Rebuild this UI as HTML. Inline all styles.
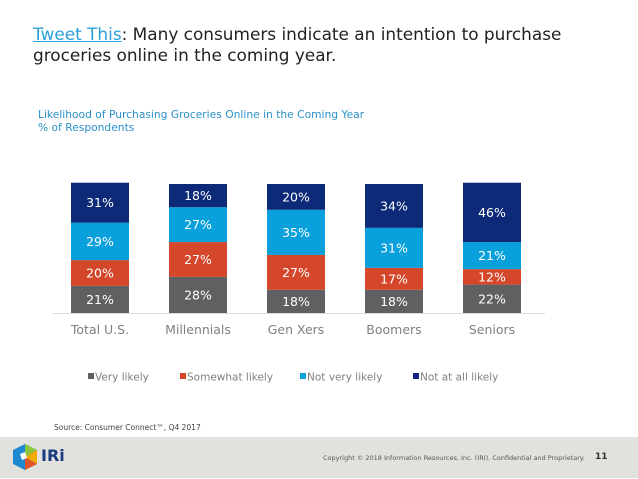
<!DOCTYPE html>
<html><head><meta charset="utf-8"><style>
body{margin:0;width:638px;height:479px;overflow:hidden;background:#fff;font-family:"DejaVu Sans","Liberation Sans",sans-serif;position:relative}
.t{position:absolute}
</style></head><body>
<div class="t" style="left:33px;top:24px;font-size:16.9px;line-height:21px;color:#222"><span style="color:#2aa0d8;text-decoration:underline">Tweet This</span>: Many consumers indicate an intention to purchase<br>groceries online in the coming year.</div>
<div class="t" style="left:38px;top:109px;font-size:10.7px;line-height:12.5px;color:#2a90c8">Likelihood of Purchasing Groceries Online in the Coming Year<br>% of Respondents</div>
<svg id="chart" class="t" style="left:0;top:0" width="638" height="479"></svg>
<div class="t" style="left:54px;top:423px;font-size:7.5px;color:#444">Source: Consumer Connect™, Q4 2017</div>
<div class="t" style="left:0;top:437px;width:638px;height:41px;background:#e1e1dd"></div>
<svg class="t" style="left:12px;top:443px" width="26" height="28">
<polygon points="13,1 25,7 25,21 13,27 1,21 1,7" fill="#1e88d0"/>
<polygon points="13,1 25,7 13,14" fill="#8cc63f"/><polygon points="25,7 25,21 13,14" fill="#f2a900"/>
<polygon points="13,27 25,21 13,14" fill="#e0542a"/><polygon points="8,11 13,9 15,15 10,17" fill="#fff"/></svg>
<div class="t" style="left:41px;top:446px;font-size:16px;font-weight:bold;color:#1b3a80">IRi</div>
<div class="t" style="left:323px;top:454px;font-size:6.5px;color:#555">Copyright © 2018 Information Resources, Inc. (IRI). Confidential and Proprietary.</div>
<div class="t" style="left:595px;top:452px;font-size:9px;font-weight:bold;color:#333">11</div>
<script>
const categories=["Total U.S.","Millennials","Gen Xers","Boomers","Seniors"];
const seriesNames=["Very likely","Somewhat likely","Not very likely","Not at all likely"];
const veryLikely=[21,28,18,18,22];
const somewhatLikely=[20,27,27,17,12];
const notVeryLikely=[29,27,35,31,21];
const notAtAllLikely=[31,18,20,34,46];
const series=[veryLikely,somewhatLikely,notVeryLikely,notAtAllLikely];
const colors=["#5f6062","#d4472a","#0aa0dc","#0c2a78"];
const svg=document.getElementById('chart');const NS="http://www.w3.org/2000/svg";
const base=313,scale=1.29,x0=100,step=98,bw=58;
const y=v=>base-v*scale, xc=i=>x0+i*step;
function mk(t,a){const e=document.createElementNS(NS,t);for(const k in a)e.setAttribute(k,a[k]);svg.appendChild(e);return e;}
const ax=mk('line',{x1:52,y1:base+0.5,x2:545,y2:base+0.5,stroke:'#ddd'});


categories.forEach((c,i)=>{let cum=0;
series.forEach((s,k)=>{const v=s[i];
const r=mk('rect',{x:xc(i)-bw/2,y:y(cum+v),width:bw,height:v*scale,fill:colors[k]});


const tx=mk('text',{x:xc(i),y:y(cum+v/2)+4.5,'text-anchor':'middle','font-size':12.5,fill:'#fff'});
tx.textContent=v+'%';


cum+=v;});
const l=mk('text',{x:xc(i),y:334,'text-anchor':'middle','font-size':12.5,fill:'#808080'});
l.textContent=c;


});
const lx=[88,180,300,413];
seriesNames.forEach((n,k)=>{
const r=mk('rect',{x:lx[k],y:373,width:6,height:6,fill:colors[k]});


const t=mk('text',{x:lx[k]+7,y:380.5,'font-size':10.5,fill:'#808080'});
t.textContent=n;


});
</script>
</body></html>
